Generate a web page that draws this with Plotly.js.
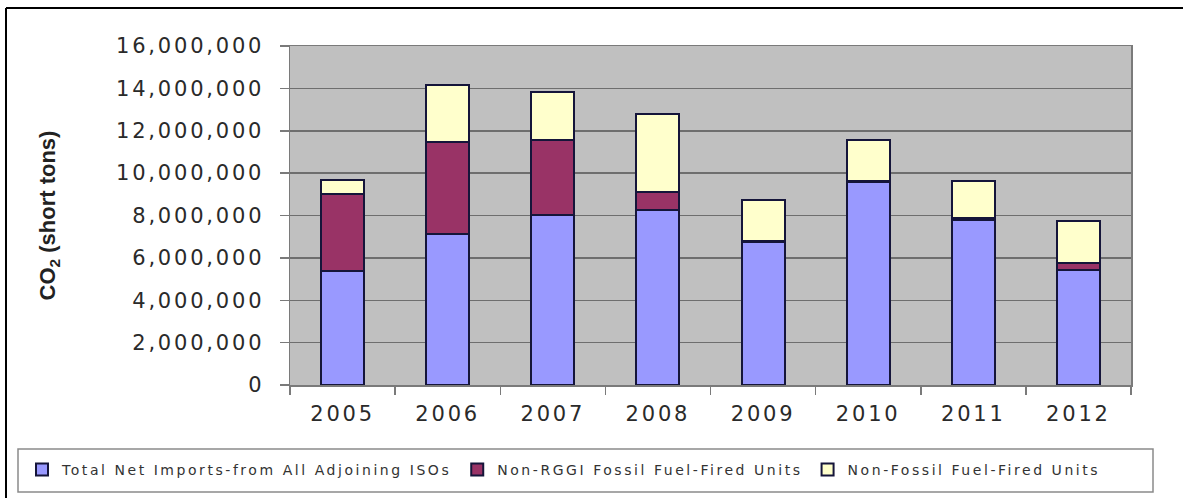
<!DOCTYPE html>
<html>
<head>
<meta charset="utf-8">
<script src="https://cdn.plot.ly/plotly-3.0.1.min.js"></script>
<style>
  html, body { margin: 0; padding: 0; background: #ffffff; }
  #chart { width: 1183px; height: 498px; }
  .xtick text, .ytick text { letter-spacing: 2.8px; }
  .legendtext { letter-spacing: 2.55px; }
</style>
</head>
<body>
<div id="chart"></div>
<script>
// CO2 emissions attributed to imported and non-RGGI generation, short tons
const years = ['2005', '2006', '2007', '2008', '2009', '2010', '2011', '2012'];
const netImports    = [5380000, 7110000, 8030000, 8280000, 6740000, 9590000, 7800000, 5410000];
const nonRggiFossil = [3640000, 4370000, 3530000,  820000,   70000,   60000,   90000,  360000];
const nonFossil     = [ 660000, 2680000, 2290000, 3690000, 1900000, 1910000, 1730000, 1960000];

const seriesNames = [
  'Total Net Imports-from All Adjoining ISOs',
  'Non-RGGI Fossil Fuel-Fired Units',
  'Non-Fossil Fuel-Fired Units'
];
const seriesColors = ['#9999ff', '#993366', '#ffffcc'];
const seriesValues = [netImports, nonRggiFossil, nonFossil];

// Plot area in page pixels, used to place the frame and legend box
const W = 1183, H = 498;
const plotL = 290, plotR = 1131, plotT = 46, plotB = 385;
const px2x = p => (p - plotL) / (plotR - plotL);
const px2y = p => (plotB - p) / (plotB - plotT);

const traces = seriesValues.map((vals, i) => ({
  type: 'bar',
  name: seriesNames[i],
  x: years,
  y: vals,
  marker: { color: seriesColors[i], line: { color: '#15153a', width: 2 } },
  hoverinfo: 'x+y+name'
}));

const tickFont = { family: 'DejaVu Sans, Arial, sans-serif', size: 21, color: '#2a2a2a' };

const layout = {
  width: W,
  height: H,
  margin: { l: plotL, r: W - plotR, t: plotT, b: H - plotB, pad: 0 },
  paper_bgcolor: '#ffffff',
  plot_bgcolor: '#c0c0c0',
  barmode: 'stack',
  bargap: 0.59,
  showlegend: true,
  legend: {
    orientation: 'h',
    traceorder: 'normal',
    x: px2x(22), xanchor: 'left',
    y: px2y(470), yanchor: 'middle',
    bgcolor: 'rgba(0,0,0,0)',
    borderwidth: 0,
    font: { family: 'DejaVu Sans, Arial, sans-serif', size: 14, color: '#333333' }
  },
  xaxis: {
    type: 'category',
    tickson: 'boundaries',
    ticks: 'outside',
    ticklen: 8,
    tickwidth: 1.5,
    tickcolor: '#7a7a7a',
    showline: true,
    linecolor: '#7a7a7a',
    linewidth: 1.5,
    mirror: true,
    showgrid: false,
    tickfont: tickFont,
    ticklabelstandoff: 9,
    fixedrange: true
  },
  yaxis: {
    range: [0, 16000000],
    dtick: 2000000,
    tick0: 0,
    tickformat: ',d',
    ticks: 'outside',
    ticklen: 9,
    tickwidth: 1.5,
    tickcolor: '#7a7a7a',
    showline: true,
    linecolor: '#7a7a7a',
    linewidth: 1.5,
    mirror: true,
    showgrid: true,
    gridcolor: '#6e6e6e',
    gridwidth: 1.5,
    zeroline: false,
    tickfont: tickFont,
    ticklabelstandoff: 11,
    title: {
      text: 'CO<sub>2</sub> (short tons)',
      font: { family: 'Liberation Sans, Arial, sans-serif', size: 22, color: '#222222', weight: 'bold' },
      standoff: 54
    },
    automargin: false,
    fixedrange: true
  },
  shapes: [
    // outer frame (top and left edges)
    { type: 'line', xref: 'paper', yref: 'paper', x0: px2x(6), x1: px2x(W + 5), y0: px2y(8), y1: px2y(8),
      line: { color: '#000000', width: 2 } },
    { type: 'line', xref: 'paper', yref: 'paper', x0: px2x(6), x1: px2x(6), y0: px2y(8), y1: px2y(H + 5),
      line: { color: '#000000', width: 2 } },
    // legend box
    { type: 'rect', xref: 'paper', yref: 'paper', x0: px2x(18), x1: px2x(1153), y0: px2y(449), y1: px2y(492),
      line: { color: '#8a8a8a', width: 1.5 }, fillcolor: 'rgba(0,0,0,0)', layer: 'below' }
  ]
};

Plotly.newPlot('chart', traces, layout, { displayModeBar: false, staticPlot: true });
</script>
</body>
</html>
